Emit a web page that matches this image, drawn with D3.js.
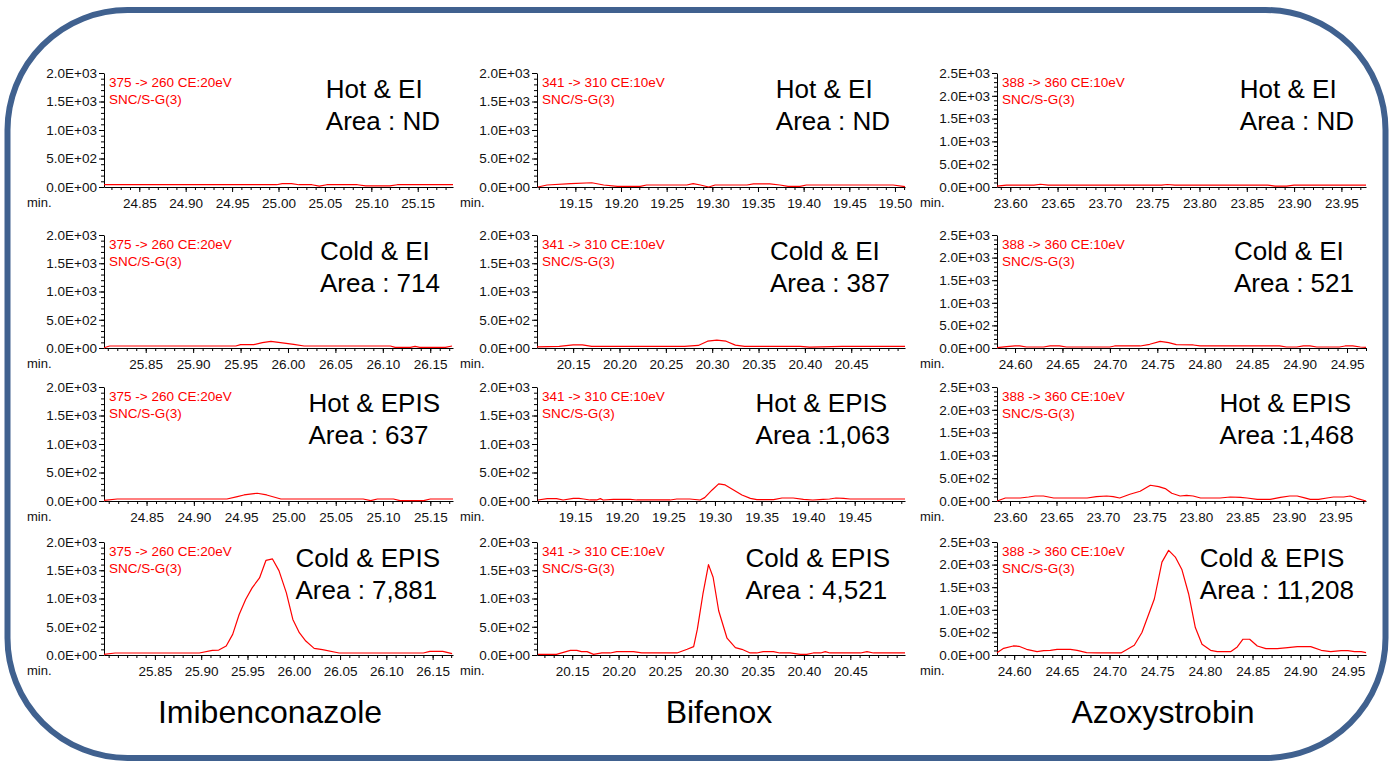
<!DOCTYPE html>
<html>
<head>
<meta charset="utf-8">
<script src="https://cdn.jsdelivr.net/npm/d3@7"></script>
<style>
  body { margin: 0; background: #fff; }
  svg text { font-family: "Liberation Sans", Arial, sans-serif; }
</style>
</head>
<body>
<script>
"use strict";

// compounds, transitions, conditions
const compounds = ["Imibenconazole", "Bifenox", "Azoxystrobin"];
const transitions = ["375 -> 260 CE:20eV", "341 -> 310 CE:10eV", "388 -> 360 CE:10eV"];
const smoothing = "SNC/S-G(3)";
const conditions = ["Hot & EI", "Cold & EI", "Hot & EPIS", "Cold & EPIS"];
const areas = [
  ["Area : ND", "Area : ND", "Area : ND"],
  ["Area : 714", "Area : 387", "Area : 521"],
  ["Area : 637", "Area :1,063", "Area :1,468"],
  ["Area : 7,881", "Area : 4,521", "Area : 11,208"]
];

// y axis ticks
const yMax = [2000, 2000, 2500];
const yTicks2k = [0, 500, 1000, 1500, 2000];
const yLabels2k = ["0.0E+00", "5.0E+02", "1.0E+03", "1.5E+03", "2.0E+03"];
const yTicks25 = [0, 500, 1000, 1500, 2000, 2500];
const yLabels25 = ["0.0E+00", "5.0E+02", "1.0E+03", "1.5E+03", "2.0E+03", "2.5E+03"];

// x ranges (min.) per panel [row][col]
const xDomains = [
  [[24.812, 25.188], [19.108, 19.511], [23.586, 23.976]],
  [[25.806, 26.174], [20.111, 20.508], [24.581, 24.970]],
  [[24.805, 25.174], [19.109, 19.504], [23.586, 23.983]],
  [[25.795, 26.172], [20.112, 20.509], [24.582, 24.969]]
];
const ticksImiA = [24.85, 24.90, 24.95, 25.00, 25.05, 25.10, 25.15];
const ticksImiB = [25.85, 25.90, 25.95, 26.00, 26.05, 26.10, 26.15];
const ticksBifA = [19.15, 19.20, 19.25, 19.30, 19.35, 19.40, 19.45, 19.50];
const ticksBifA2 = [19.15, 19.20, 19.25, 19.30, 19.35, 19.40, 19.45];
const ticksBifB = [20.15, 20.20, 20.25, 20.30, 20.35, 20.40, 20.45];
const ticksAzoA = [23.60, 23.65, 23.70, 23.75, 23.80, 23.85, 23.90, 23.95];
const ticksAzoB = [24.60, 24.65, 24.70, 24.75, 24.80, 24.85, 24.90, 24.95];
const xTickSets = [
  [ticksImiA, ticksBifA, ticksAzoA],
  [ticksImiB, ticksBifB, ticksAzoB],
  [ticksImiA, ticksBifA2, ticksAzoA],
  [ticksImiB, ticksBifB, ticksAzoB]
];

// chromatograms [time, intensity]
const imiHotEI = [[24.812,40],[24.85,40],[24.90,40],[24.95,40],[24.998,40],[25.004,60],[25.014,60],[25.022,40],[25.036,40],[25.044,15],[25.052,40],[25.085,40],[25.094,20],[25.120,20],[25.128,40],[25.188,40]];
const imiColdEI = [[25.806,5],[25.812,35],[25.945,35],[25.950,59],[25.964,59],[25.973,94],[25.982,118],[25.990,100],[26.006,65],[26.017,35],[26.108,35],[26.113,12],[26.129,12],[26.134,30],[26.139,12],[26.166,12],[26.173,35]];
const imiHotEPIS = [[24.805,12],[24.819,35],[24.935,35],[24.946,77],[24.953,106],[24.967,136],[24.977,106],[24.992,35],[25.079,35],[25.087,6],[25.094,35],[25.111,35],[25.118,6],[25.143,6],[25.150,35],[25.174,35]];
const imiColdEPIS = [[25.795,12],[25.807,35],[25.898,35],[25.912,82],[25.919,88],[25.927,160],[25.934,365],[25.941,717],[25.948,982],[25.955,1188],[25.963,1364],[25.970,1676],[25.977,1700],[25.984,1494],[25.992,1100],[25.999,629],[26.006,394],[26.013,247],[26.022,118],[26.031,94],[26.049,35],[26.140,35],[26.147,65],[26.161,65],[26.171,25]];

const bifHotEI = [[19.109,0],[19.119,35],[19.145,60],[19.168,75],[19.181,35],[19.196,10],[19.221,10],[19.228,35],[19.272,35],[19.279,60],[19.287,35],[19.296,0],[19.303,35],[19.338,35],[19.345,55],[19.363,55],[19.374,35],[19.383,10],[19.396,10],[19.403,35],[19.498,35],[19.511,5]];
const bifColdEI = [[20.111,20],[20.135,30],[20.150,55],[20.160,55],[20.170,30],[20.270,30],[20.285,45],[20.295,120],[20.305,140],[20.315,120],[20.325,50],[20.335,30],[20.395,30],[20.405,15],[20.440,30],[20.508,30]];
const bifHotEPIS = [[19.110,18],[19.120,41],[19.130,41],[19.137,18],[19.148,47],[19.154,47],[19.159,35],[19.166,18],[19.173,18],[19.177,41],[19.180,18],[19.191,29],[19.209,29],[19.216,18],[19.252,18],[19.259,35],[19.273,35],[19.284,18],[19.289,59],[19.297,194],[19.304,300],[19.311,282],[19.320,194],[19.329,106],[19.338,47],[19.345,24],[19.363,24],[19.372,53],[19.384,53],[19.395,29],[19.405,18],[19.416,29],[19.423,35],[19.430,53],[19.438,47],[19.445,35],[19.504,35]];
const bifColdEPIS = [[20.113,12],[20.133,12],[20.148,83],[20.155,83],[20.160,59],[20.166,59],[20.173,12],[20.182,36],[20.191,36],[20.198,59],[20.216,59],[20.225,36],[20.263,36],[20.274,101],[20.281,148],[20.285,457],[20.291,1080],[20.297,1600],[20.302,1376],[20.308,783],[20.317,297],[20.326,130],[20.333,101],[20.342,36],[20.349,36],[20.356,59],[20.367,59],[20.374,36],[20.385,36],[20.396,12],[20.403,12],[20.410,36],[20.418,36],[20.423,59],[20.428,36],[20.461,36],[20.468,59],[20.475,36],[20.509,36]];

const azoHotEI = [[23.586,20],[23.596,40],[23.625,40],[23.632,60],[23.640,40],[23.760,40],[23.766,55],[23.774,40],[23.872,40],[23.880,20],[23.892,20],[23.900,40],[23.976,40]];
const azoColdEI = [[24.581,7],[24.591,30],[24.600,45],[24.605,45],[24.612,22],[24.630,22],[24.637,45],[24.647,45],[24.654,22],[24.700,22],[24.705,45],[24.732,45],[24.742,82],[24.753,148],[24.762,119],[24.770,74],[24.788,67],[24.795,45],[24.879,45],[24.886,22],[24.897,22],[24.904,45],[24.911,45],[24.918,22],[24.942,22],[24.948,45],[24.956,45],[24.964,22],[24.970,15]];
const azoHotEPIS = [[23.586,0],[23.595,66],[23.611,66],[23.620,88],[23.627,110],[23.636,110],[23.647,66],[23.683,66],[23.693,96],[23.704,110],[23.711,96],[23.718,66],[23.729,147],[23.740,213],[23.751,345],[23.760,316],[23.767,272],[23.774,169],[23.783,110],[23.790,125],[23.797,110],[23.805,66],[23.826,66],[23.837,88],[23.848,81],[23.855,66],[23.866,37],[23.880,37],[23.891,81],[23.901,110],[23.909,110],[23.916,74],[23.923,37],[23.932,37],[23.941,66],[23.948,88],[23.959,88],[23.966,110],[23.973,59],[23.983,0]];
const azoColdEPIS = [[24.582,52],[24.589,148],[24.599,200],[24.605,193],[24.613,126],[24.624,74],[24.631,96],[24.638,104],[24.645,126],[24.659,126],[24.666,104],[24.676,52],[24.687,45],[24.712,45],[24.726,215],[24.734,497],[24.747,1239],[24.755,2055],[24.762,2315],[24.769,2167],[24.776,1885],[24.783,1350],[24.790,608],[24.797,237],[24.806,104],[24.813,74],[24.827,74],[24.834,178],[24.840,349],[24.847,349],[24.855,200],[24.864,141],[24.876,141],[24.887,163],[24.897,186],[24.911,186],[24.922,104],[24.932,74],[24.943,96],[24.950,96],[24.957,74],[24.964,74],[24.969,52]];

const series = [
  [imiHotEI, bifHotEI, azoHotEI],
  [imiColdEI, bifColdEI, azoColdEI],
  [imiHotEPIS, bifHotEPIS, azoHotEPIS],
  [imiColdEPIS, bifColdEPIS, azoColdEPIS]
];

// layout
const w = 1392;
const h = 763;
const colX = [[104, 453], [537, 905], [997, 1366]];
const rowY = [[73, 187], [235, 348], [387, 501], [542, 655]];
const textRight = [440, 890, 1354];
const nameX = [270, 719, 1163];

const svg = d3.select("body").append("svg").attr("width", w).attr("height", h);

//rounded frame
svg
  .append("rect")
  .attr("x", 7.5)
  .attr("y", 10)
  .attr("width", 1378)
  .attr("height", 748)
  .attr("rx", 120)
  .attr("ry", 120)
  .attr("fill", "none")
  .attr("stroke", "#40618f")
  .attr("stroke-width", 6);

const drawPanel = (r, c) => {
  const [x0, x1] = colX[c];
  const [y0, y1] = rowY[r];
  const dom = xDomains[r][c];
  const g = svg.append("g");

  const xScale = d3.scaleLinear().domain(dom).range([x0, x1]);
  const yScale = d3.scaleLinear().domain([0, yMax[c]]).range([y1, y0]);

  const yTicks = c === 2 ? yTicks25 : yTicks2k;
  const yLabels = c === 2 ? yLabels25 : yLabels2k;
  const yMinor = d3.range(0, yMax[c] + 1, 100);
  const xMinor = d3.range(Math.ceil(dom[0] * 100), Math.floor(dom[1] * 100) + 1).map((v) => v / 100);

  //minor ticks
  g.append("g")
    .attr("transform", `translate(${x0},0)`)
    .call(d3.axisLeft(yScale).tickValues(yMinor).tickSize(3).tickFormat(""))
    .call((a) => a.select(".domain").remove());
  g.append("g")
    .attr("transform", `translate(0,${y1})`)
    .call(d3.axisBottom(xScale).tickValues(xMinor).tickSize(3).tickFormat(""))
    .call((a) => a.select(".domain").remove());

  //major axes
  g.append("g")
    .attr("transform", `translate(${x0},0)`)
    .call(d3.axisLeft(yScale).tickValues(yTicks).tickSize(5).tickSizeOuter(0).tickPadding(2)
      .tickFormat((d, i) => yLabels[i]))
    .call((a) => a.selectAll("text").attr("font-size", 13.5).attr("font-family", null));
  g.append("g")
    .attr("transform", `translate(0,${y1})`)
    .call(d3.axisBottom(xScale).tickValues(xTickSets[r][c]).tickSize(5).tickSizeOuter(0).tickPadding(6)
      .tickFormat(d3.format(".2f")))
    .call((a) => a.selectAll("text").attr("font-size", 13.5).attr("font-family", null));

  g.selectAll(".domain").attr("stroke", "#000");
  g.selectAll(".tick line").attr("stroke", "#000");
  g.selectAll(".tick text").attr("fill", "#111");

  g.append("text")
    .attr("x", x0 - 77)
    .attr("y", y1 + 11)
    .attr("dy", "0.71em")
    .attr("font-size", 13)
    .attr("fill", "#111")
    .text("min.");

  //trace
  const line = d3.line().x((d) => xScale(d[0])).y((d) => yScale(d[1]));
  g.append("path")
    .datum(series[r][c])
    .attr("d", line)
    .attr("fill", "none")
    .attr("stroke", "#ff0000")
    .attr("stroke-width", 1.2)
    .attr("stroke-linejoin", "round");

  //channel info
  g.append("text").attr("x", x0 + 5).attr("y", y0 + 14).attr("font-size", 13.5).attr("fill", "#ff0000").text(transitions[c]);
  g.append("text").attr("x", x0 + 5).attr("y", y0 + 31).attr("font-size", 13.5).attr("fill", "#ff0000").text(smoothing);

  //condition and area
  const t1 = g.append("text").attr("y", y0 + 25).attr("font-size", 26).attr("fill", "#000").text(conditions[r]);
  const t2 = g.append("text").attr("y", y0 + 57).attr("font-size", 26).attr("fill", "#000").text(areas[r][c]);
  const widest = Math.max(t1.node().getComputedTextLength(), t2.node().getComputedTextLength());
  t1.attr("x", textRight[c] - widest);
  t2.attr("x", textRight[c] - widest);
};

for (let r = 0; r < 4; r++) {
  for (let c = 0; c < 3; c++) {
    drawPanel(r, c);
  }
}

//compound names
svg
  .selectAll(".name")
  .data(compounds)
  .enter()
  .append("text")
  .attr("class", "name")
  .attr("x", (d, i) => nameX[i])
  .attr("y", 723)
  .attr("text-anchor", "middle")
  .attr("font-size", 32)
  .attr("fill", "#000")
  .text((d) => d);
</script>
</body>
</html>
